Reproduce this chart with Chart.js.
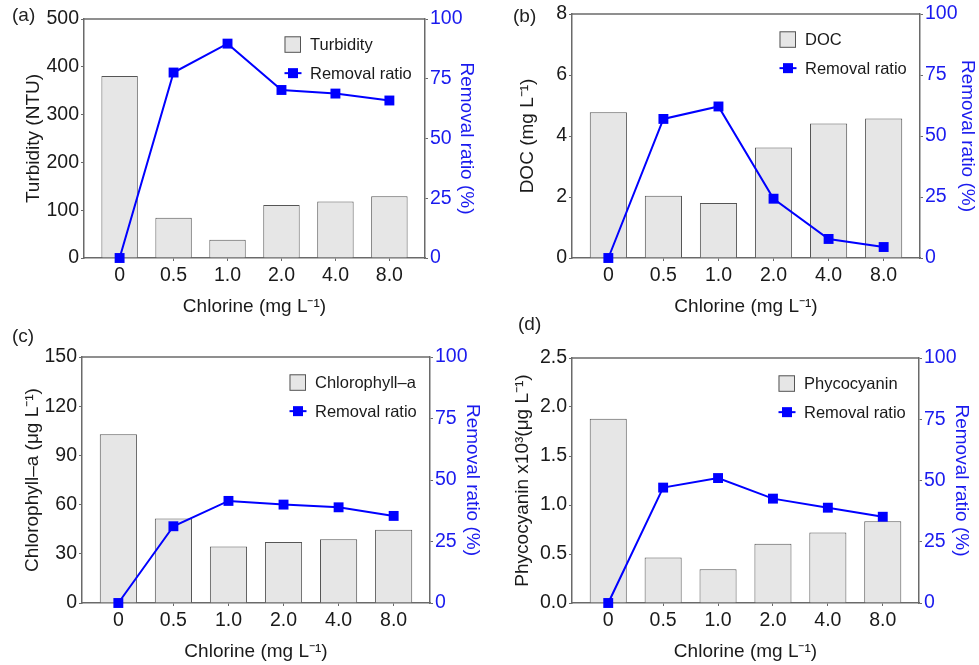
<!DOCTYPE html>
<html>
<head>
<meta charset="utf-8">
<script src="https://cdn.jsdelivr.net/npm/chart.js@4.4.0/dist/chart.umd.min.js"></script>
<style>
  body { margin: 0; background: #fff; width: 979px; height: 665px; position: relative; overflow: hidden;
         font-family: "Liberation Sans", Arial, sans-serif; }
  .panel { position: absolute; }
  .tag { position: absolute; font-size: 19px; color: #222; line-height: 1; }
</style>
</head>
<body>
<div class="panel" style="left:0;top:0;width:490px;height:320px"><canvas id="cA"></canvas></div>
<div class="panel" style="left:490px;top:0;width:489px;height:320px"><canvas id="cB"></canvas></div>
<div class="panel" style="left:0;top:320px;width:490px;height:345px"><canvas id="cC"></canvas></div>
<div class="panel" style="left:490px;top:320px;width:489px;height:345px"><canvas id="cD"></canvas></div>
<div class="tag" style="left:12px;top:5px">(a)</div>
<div class="tag" style="left:513px;top:6px">(b)</div>
<div class="tag" style="left:12px;top:326px">(c)</div>
<div class="tag" style="left:518px;top:314px">(d)</div>
<script>
// dosis de cloro (eixo x)
const chlorine = ["0", "0.5", "1.0", "2.0", "4.0", "8.0"];

const turbidity = [381, 84, 38, 111, 118, 129];
const turbidityRemoval = [0, 77.6, 89.7, 70.3, 68.8, 65.9];
const turbidityTicks = [0, 100, 200, 300, 400, 500];

const doc = [4.78, 2.04, 1.80, 3.62, 4.41, 4.57];
const docRemoval = [0, 57.0, 62.1, 24.3, 7.8, 4.5];
const docTicks = [0, 2, 4, 6, 8];

const chla = [102.9, 51.6, 34.4, 37.2, 38.8, 44.7];
const chlaRemoval = [0, 31.2, 41.5, 40.0, 38.9, 35.4];
const chlaTicks = [0, 30, 60, 90, 120, 150];

const phycocyanin = [1.88, 0.464, 0.345, 0.604, 0.72, 0.833];
const pcRemoval = [0, 47.1, 51.0, 42.6, 38.9, 35.2];
const pcTicks = [0, 0.5, 1.0, 1.5, 2.0, 2.5];

const removalTicks = [0, 25, 50, 75, 100];

const BLUE = "#0000ff";
const BLUE_TXT = "#1a1aee";
const AXIS = "#6a6a6a";
const TXT = "#1a1a1a";

Chart.defaults.font.family = '"Liberation Sans", Arial, sans-serif';

// legenda desenhada dentro da area do grafico
const legendaInterna = {
  id: "legendaInterna",
  afterDraw(chart) {
    const { ctx, chartArea } = chart;
    const x = chartArea.right - 140.5;
    const y = chartArea.top + 17.3;
    const lado = 16.5;
    ctx.save();
    ctx.fillStyle = "#e6e6e6";
    ctx.strokeStyle = "#555";
    ctx.lineWidth = 1;
    ctx.fillRect(x, y, lado, lado);
    ctx.strokeRect(x + 0.5, y + 0.5, lado - 1, lado - 1);
    ctx.font = '16.5px "Liberation Sans", Arial, sans-serif';
    ctx.fillStyle = TXT;
    ctx.textBaseline = "middle";
    ctx.fillText(chart.data.datasets[1].label, x + 25.5, y + lado / 2 + 1);
    const y2 = y + lado / 2 + 28.6;
    ctx.strokeStyle = BLUE;
    ctx.lineWidth = 2;
    ctx.beginPath();
    ctx.moveTo(x, y2);
    ctx.lineTo(x + 17, y2);
    ctx.stroke();
    ctx.fillStyle = BLUE;
    ctx.fillRect(x + 8.5 - 5, y2 - 5, 10, 10);
    ctx.fillStyle = TXT;
    ctx.fillText(chart.data.datasets[0].label, x + 25.5, y2 + 1);
    // linha superior da moldura
    ctx.strokeStyle = AXIS;
    ctx.lineWidth = 1.5;
    ctx.beginPath();
    ctx.moveTo(chartArea.left, chartArea.top);
    ctx.lineTo(chartArea.right, chartArea.top);
    ctx.stroke();
    ctx.restore();
  }
};

function gerarPainel(id, barras, remocao, nomeBarra, tituloY, ticksY, casas, L) {
  const ctx = document.getElementById(id).getContext("2d");
  new Chart(ctx, {
    data: {
      datasets: [
        {
          type: "line",
          label: "Removal ratio",
          data: remocao.map((v, i) => ({ x: i, y: v })),
          yAxisID: "y2",
          borderColor: BLUE,
          backgroundColor: BLUE,
          borderWidth: 2,
          pointStyle: "rect",
          pointRadius: 7,
          pointBorderWidth: 0,
          tension: 0,
          clip: false,
          order: 0
        },
        {
          type: "bar",
          label: nomeBarra,
          data: barras.map((v, i) => ({ x: i, y: v })),
          yAxisID: "y",
          backgroundColor: "#e6e6e6",
          borderColor: "#555",
          borderWidth: 1,
          categoryPercentage: 1,
          barPercentage: 0.675,
          order: 1
        }
      ]
    },
    options: {
      responsive: true,
      maintainAspectRatio: false,
      animation: false,
      layout: { padding: { top: L.top, left: 0, right: 0, bottom: 0 } },
      plugins: { legend: { display: false }, tooltip: { enabled: false } },
      scales: {
        x: {
          type: "linear",
          min: -0.66,
          max: 5.66,
          offset: false,
          afterBuildTicks: s => { s.ticks = chlorine.map((c, i) => ({ value: i })); },
          afterFit: s => { s.height = L.xh; },
          ticks: {
            color: TXT,
            font: { size: 19.5 },
            padding: 3,
            callback: v => chlorine[v]
          },
          grid: { drawOnChartArea: false, offset: false, tickLength: 3, color: AXIS },
          border: { color: AXIS, width: 1.5 },
          title: {
            display: true,
            text: "Chlorine (mg L\u207B\u00B9)",
            color: TXT,
            font: { size: 19 },
            padding: { top: 0, bottom: 1.5 }
          }
        },
        y: {
          position: "left",
          min: ticksY[0],
          max: ticksY[ticksY.length - 1],
          afterBuildTicks: s => { s.ticks = ticksY.map(v => ({ value: v })); },
          afterFit: s => { s.width = L.left; },
          ticks: {
            color: TXT,
            font: { size: 19.5 },
            padding: 2,
            callback: v => v.toFixed(casas)
          },
          grid: { drawOnChartArea: false, tickLength: 3, color: AXIS },
          border: { color: AXIS, width: 1.5 },
          title: {
            display: true,
            text: tituloY,
            color: TXT,
            font: { size: 19 },
            padding: { top: L.yPad, bottom: 0 }
          }
        },
        y2: {
          position: "right",
          min: 0,
          max: 100,
          afterBuildTicks: s => { s.ticks = removalTicks.map(v => ({ value: v })); },
          afterFit: s => { s.width = L.right; },
          ticks: {
            color: BLUE_TXT,
            font: { size: 19.5 },
            padding: 2
          },
          grid: { drawOnChartArea: false, tickLength: 3, color: AXIS },
          border: { color: AXIS, width: 1.5 },
          title: {
            display: true,
            text: "Removal ratio (%)",
            color: BLUE_TXT,
            font: { size: 19 },
            padding: { top: L.rPad, bottom: 0 }
          }
        }
      }
    },
    plugins: [legendaInterna]
  });
}

gerarPainel("cA", turbidity, turbidityRemoval, "Turbidity", "Turbidity (NTU)", turbidityTicks, 0,
  { left: 84, right: 65, top: 19, xh: 62, yPad: 22, rPad: 12 });
gerarPainel("cB", doc, docRemoval, "DOC", "DOC (mg L\u207B\u00B9)", docTicks, 0,
  { left: 82, right: 59, top: 14, xh: 62, yPad: 26, rPad: 0 });
gerarPainel("cC", chla, chlaRemoval, "Chlorophyll\u2013a", "Chlorophyll\u2013a (\u03BCg L\u207B\u00B9)", chlaTicks, 0,
  { left: 82, right: 60, top: 37, xh: 62, yPad: 21, rPad: 6 });
gerarPainel("cD", phycocyanin, pcRemoval, "Phycocyanin", "Phycocyanin x10\u00B3(\u03BCg L\u207B\u00B9)", pcTicks, 1,
  { left: 82, right: 60, top: 38, xh: 62, yPad: 21, rPad: 6 });
</script>
</body>
</html>
